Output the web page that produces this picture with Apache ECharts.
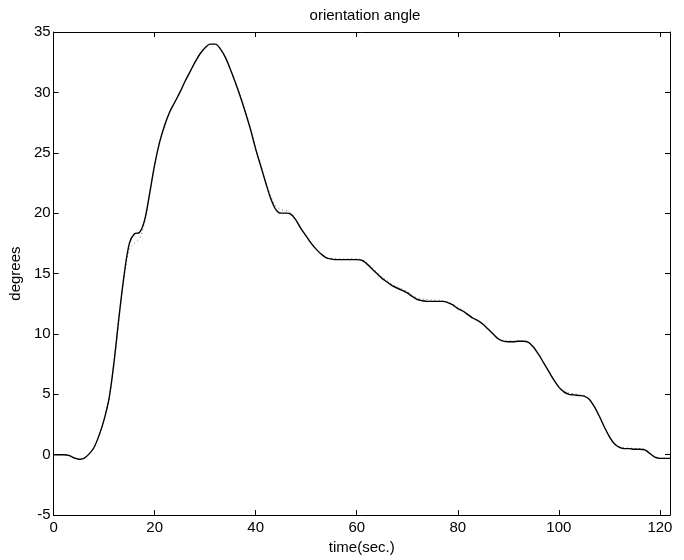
<!DOCTYPE html>
<html>
<head>
<meta charset="utf-8">
<script src="https://cdn.jsdelivr.net/npm/echarts@6/dist/echarts.min.js"></script>
<style>
  html, body { margin: 0; padding: 0; background: #fff; }
  #chart { width: 684px; height: 560px; }
</style>
</head>
<body>
<div id="chart"></div>
<script>
// Time samples (seconds)
const timeSec = [
  0, 1, 2, 3, 4, 5, 6, 7, 8, 9,
  10, 11, 12, 13, 14, 15, 16, 17, 18, 19,
  20, 21, 22, 23, 24, 25, 26, 27, 28, 29,
  30, 31, 32, 33, 34, 35, 36, 37, 38, 39,
  40, 41, 42, 43, 44, 45, 46, 47, 48, 49,
  50, 51, 52, 53, 54, 55, 56, 57, 58, 59,
  60, 61, 62, 63, 64, 65, 66, 67, 68, 69,
  70, 71, 72, 73, 74, 75, 76, 77, 78, 79,
  80, 81, 82, 83, 84, 85, 86, 87, 88, 89,
  90, 91, 92, 93, 94, 95, 96, 97, 98, 99,
  100, 101, 102, 103, 104, 105, 106, 107, 108, 109,
  110, 111, 112, 113, 114, 115, 116, 117, 118, 119,
  120, 121, 122
];

// Measured orientation angle (degrees), solid line
const measuredDeg = [
  0, 0, 0, -0.05, -0.25, -0.38, -0.3, 0.05, 0.6, 1.6,
  2.9, 4.7, 7.8, 11.6, 15.0, 17.5, 18.3, 18.4, 19.4, 21.6,
  24.0, 25.9, 27.3, 28.4, 29.2, 30.0, 30.9, 31.7, 32.5, 33.2,
  33.7, 34.0, 34.0, 33.6, 32.9, 31.9, 30.8, 29.6, 28.3, 26.9,
  25.3, 23.9, 22.5, 21.2, 20.3, 20.0, 20.0, 19.9, 19.4, 18.7,
  18.1, 17.5, 17.0, 16.6, 16.3, 16.2, 16.15, 16.15, 16.15, 16.15,
  16.15, 16.1, 15.8, 15.4, 15.0, 14.6, 14.3, 14.0, 13.8, 13.6,
  13.4, 13.1, 12.85, 12.75, 12.7, 12.7, 12.7, 12.7, 12.6, 12.4,
  12.1, 11.9, 11.6, 11.3, 11.1, 10.8, 10.4, 10.0, 9.6, 9.4,
  9.35, 9.35, 9.4, 9.4, 9.3, 8.9, 8.3, 7.6, 6.9, 6.2,
  5.6, 5.2, 5.0, 4.95, 4.9, 4.85, 4.6, 4.0, 3.2, 2.3,
  1.5, 0.9, 0.6, 0.5, 0.5, 0.45, 0.45, 0.4, 0.1, -0.2,
  -0.3, -0.3, -0.3
];

// Estimated orientation angle (degrees), dotted line
const estimatedDeg = [
  0, 0, 0, -0.05, -0.25, -0.38, -0.3, 0.05, 0.6, 1.6,
  2.9, 4.7, 7.8, 11.5, 14.8, 17.0, 17.5, 17.9, 19.2, 21.6,
  24.0, 25.9, 27.3, 28.4, 29.2, 30.0, 30.9, 31.7, 32.5, 33.2,
  33.7, 34.0, 34.0, 33.6, 32.9, 31.9, 30.8, 29.7, 28.4, 27.0,
  25.4, 24.0, 22.6, 21.4, 20.6, 20.3, 20.2, 20.0, 19.4, 18.7,
  18.1, 17.5, 17.0, 16.6, 16.3, 16.25, 16.25, 16.2, 16.2, 16.25,
  16.2, 16.15, 15.9, 15.5, 15.1, 14.7, 14.4, 14.1, 13.9, 13.7,
  13.5, 13.2, 13.0, 12.9, 12.85, 12.8, 12.8, 12.75, 12.65, 12.45,
  12.2, 11.95, 11.65, 11.35, 11.1, 10.8, 10.4, 10.0, 9.6, 9.45,
  9.45, 9.4, 9.45, 9.4, 9.3, 8.9, 8.3, 7.6, 6.9, 6.2,
  5.6, 5.3, 5.1, 5.05, 4.95, 4.9, 4.65, 4.0, 3.2, 2.3,
  1.5, 0.9, 0.65, 0.55, 0.55, 0.5, 0.5, 0.45, 0.15, -0.15,
  -0.3, -0.3, -0.3
];

// Tick positions
const xTicks = [0, 20, 40, 60, 80, 100, 120];
const yTicks = [-5, 0, 5, 10, 15, 20, 25, 30, 35];

const pairs = (xs, ys) => xs.map((x, i) => [x, ys[i]]);

const font = 'Liberation Sans, Arial, Helvetica, sans-serif';
const fontSize = 15;
const lineStyle = { color: '#000', width: 1 };

const chart = echarts.init(document.getElementById('chart'), null, { renderer: 'canvas' });

chart.setOption({
  animation: false,
  backgroundColor: '#fff',
  title: {
    text: 'orientation angle',
    left: 360,
    top: 3,
    textAlign: 'center',
    textStyle: { fontFamily: font, fontSize: fontSize, fontWeight: 'normal', color: '#000' }
  },
  grid: { left: 51, right: 14, top: 32, bottom: 38, show: false },
  xAxis: [
    {
      type: 'value', min: 0, max: 122, position: 'bottom',
      name: 'time(sec.)', nameLocation: 'middle', nameGap: 23,
      nameTextStyle: { fontFamily: font, fontSize: fontSize, color: '#000' },
      axisLine: { show: true, onZero: false, lineStyle },
      axisTick: { show: true, inside: true, length: 5, lineStyle, customValues: xTicks },
      axisLabel: { fontFamily: font, fontSize: fontSize, color: '#000', margin: 5, customValues: xTicks },
      splitLine: { show: false }
    },
    {
      type: 'value', min: 0, max: 122, position: 'top',
      axisLine: { show: true, onZero: false, lineStyle },
      axisTick: { show: true, inside: true, length: 5, lineStyle, customValues: xTicks },
      axisLabel: { show: false },
      splitLine: { show: false }
    }
  ],
  yAxis: [
    {
      type: 'value', min: -5, max: 35, interval: 5, position: 'left',
      name: 'degrees', nameLocation: 'middle', nameGap: 26,
      nameTextStyle: { fontFamily: font, fontSize: fontSize, color: '#000' },
      axisLine: { show: true, onZero: false, lineStyle },
      axisTick: { show: true, inside: true, length: 5, lineStyle, customValues: yTicks },
      axisLabel: { fontFamily: font, fontSize: fontSize, color: '#000', margin: 3, customValues: yTicks },
      splitLine: { show: false }
    },
    {
      type: 'value', min: -5, max: 35, interval: 5, position: 'right',
      axisLine: { show: true, onZero: false, lineStyle },
      axisTick: { show: true, inside: true, length: 5, lineStyle, customValues: yTicks },
      axisLabel: { show: false },
      splitLine: { show: false }
    }
  ],
  series: [
    {
      name: 'estimated',
      type: 'line',
      data: pairs(timeSec, estimatedDeg),
      smooth: 0.35,
      symbol: 'none',
      lineStyle: { color: '#666', width: 1, type: [1, 3] },
      z: 1
    },
    {
      name: 'measured',
      type: 'line',
      data: pairs(timeSec, measuredDeg),
      smooth: 0.35,
      symbol: 'none',
      lineStyle: { color: '#000', width: 1.4 },
      z: 2
    }
  ]
});
</script>
</body>
</html>
